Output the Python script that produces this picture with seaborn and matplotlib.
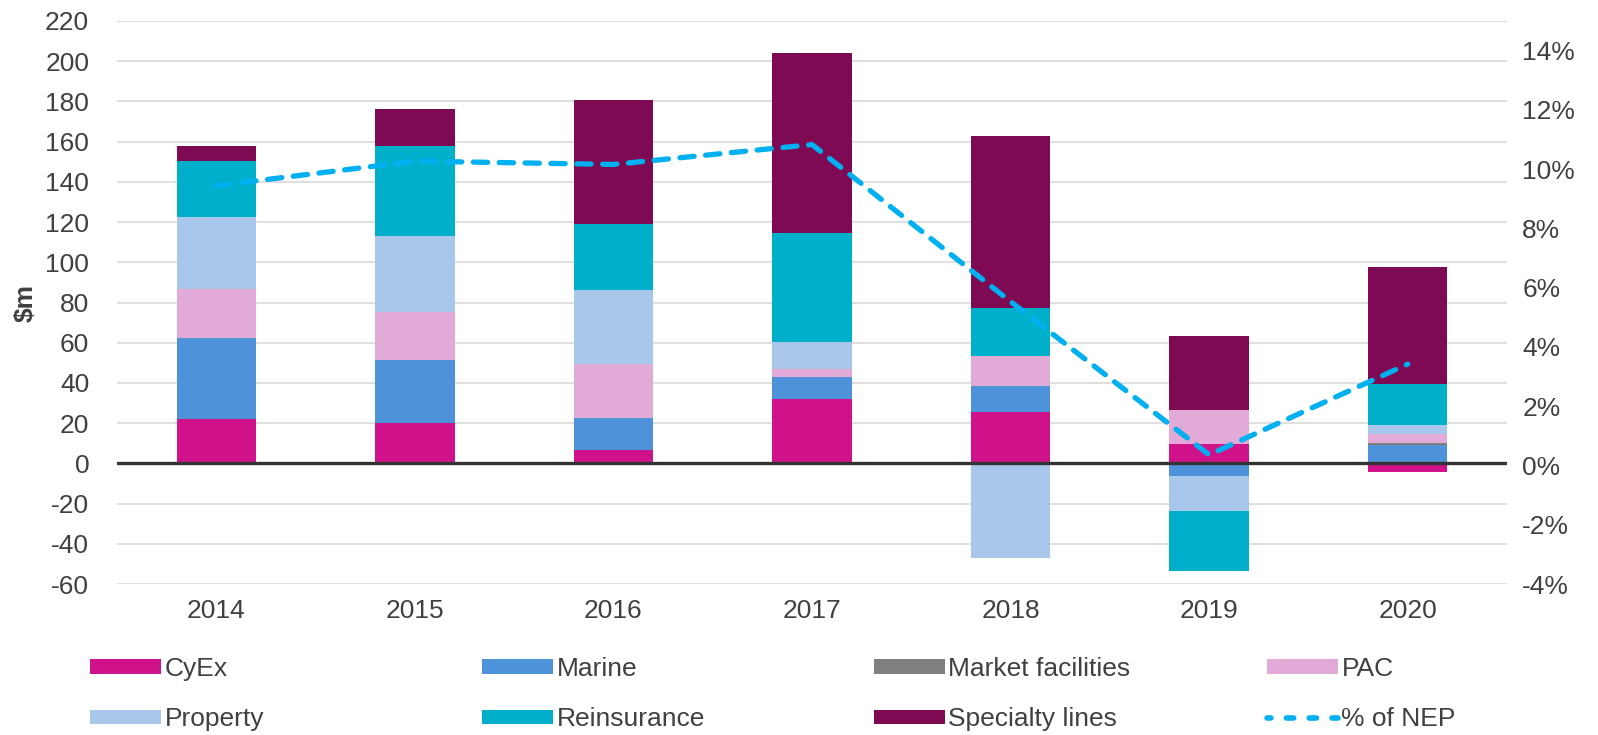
import numpy as np
import pandas as pd
import matplotlib
matplotlib.use("Agg")
import matplotlib.pyplot as plt
from matplotlib.patches import Patch
from matplotlib.lines import Line2D
import seaborn as sns

years = ['2014', '2015', '2016', '2017', '2018', '2019', '2020']
cyex = [22.0, 20.2, 6.6, 32.1, 25.7, 9.5, -4.3]
marine = [40.1, 31.2, 15.9, 10.9, 12.8, -6.3, 9.0]
market = [0, 0, 0, 0, 0, 0, 1.0]
pac = [24.7, 24.0, 27.1, 3.8, 14.7, 16.9, 4.4]
prop = [35.8, 37.7, 36.8, 13.4, -47.3, -17.4, 4.5]
reins = [27.8, 44.9, 32.4, 54.5, 23.9, -29.9, 20.7]
specialty = [7.5, 18.4, 62.0, 89.3, 85.7, 36.9, 58.2]
nep_pct = [9.44, 10.27, 10.16, 10.83, 5.53, 0.36, 3.42]

series = [
    ('CyEx', cyex, '#D0128A'),
    ('Marine', marine, '#4E93D9'),
    ('Market facilities', market, '#7F7F7F'),
    ('PAC', pac, '#E2AAD6'),
    ('Property', prop, '#A9C7EB'),
    ('Reinsurance', reins, '#00AFCA'),
    ('Specialty lines', specialty, '#7D0A52'),
]
line_color = '#00B0F0'
text_color = '#404040'
fs = 19

sns.set_style("white")
plt.rcParams['font.family'] = ['Liberation Sans', 'DejaVu Sans']
plt.rcParams['axes.unicode_minus'] = False
plt.rcParams['text.color'] = text_color
plt.rcParams['axes.labelcolor'] = text_color

fig = plt.figure(figsize=(15.98, 7.35), dpi=100)
ax = fig.add_axes([117 / 1598, 1 - 584 / 735, 1390 / 1598, (584 - 21) / 735])

# stack positives up and negatives down, like Excel does
pos_base = np.zeros(len(years))
neg_base = np.zeros(len(years))
for name, vals, col in series:
    v = np.array(vals, dtype=float)
    bottom = np.where(v >= 0, pos_base, neg_base)
    sns.barplot(x=years, y=v, bottom=bottom, color=col, width=0.4,
                errorbar=None, linewidth=0, saturation=1, ax=ax, zorder=2)
    pos_base = pos_base + np.where(v >= 0, v, 0)
    neg_base = neg_base + np.where(v < 0, v, 0)

ax.axhline(0, color='#333333', lw=2.4, zorder=3)
ax.set_ylim(-60, 220)
ax.set_yticks(np.arange(-60, 221, 20))
ax.set_xlim(-0.5, 6.5)
ax.grid(axis='y', color='#DCDCDC', lw=1.3)
ax.set_axisbelow(True)
ax.set_ylabel('$m', fontsize=fs, fontweight='bold', labelpad=5)
ax.set_xlabel('')
ax.tick_params(axis='both', length=0, labelsize=fs, colors=text_color)
ax.tick_params(axis='y', pad=20)
ax.tick_params(axis='x', pad=11)
for s in ax.spines.values():
    s.set_visible(False)

ax2 = ax.twinx()
sns.lineplot(x=np.arange(len(years)), y=nep_pct, ax=ax2, color=line_color,
             lw=3.8, dashes=False, zorder=4)
ln = ax2.lines[0]
ln.set_dashes((2.7, 2.2))
ln.set_dash_capstyle('round')
ax2.set_ylim(-4, 15)
ax2.set_yticks(np.arange(-4, 15, 2))
ax2.set_yticklabels([f'{t}%' for t in range(-4, 15, 2)])
ax2.tick_params(axis='y', length=0, labelsize=fs, colors=text_color, pad=11)
ax2.set_xlim(-0.5, 6.5)
for s in ax2.spines.values():
    s.set_visible(False)

handles = [Patch(facecolor=c, edgecolor='none', label=n) for n, _, c in series]
handles.append(Line2D([0], [0], color=line_color, lw=4, linestyle=(0.6, (1.3, 2.8)),
                      dash_capstyle='round', label='% of NEP'))
col_x = [90, 482, 874, 1267]
for i, x in enumerate(col_x):
    fig.legend(handles=[handles[i], handles[i + 4]], loc='upper left',
               bbox_to_anchor=(x / 1598, 1 - 657 / 735), frameon=False,
               fontsize=fs, handlelength=2.7, handleheight=0.46,
               handletextpad=0.12, labelspacing=1.0, borderpad=0,
               borderaxespad=0)

fig.savefig('out.png', dpi=100)
